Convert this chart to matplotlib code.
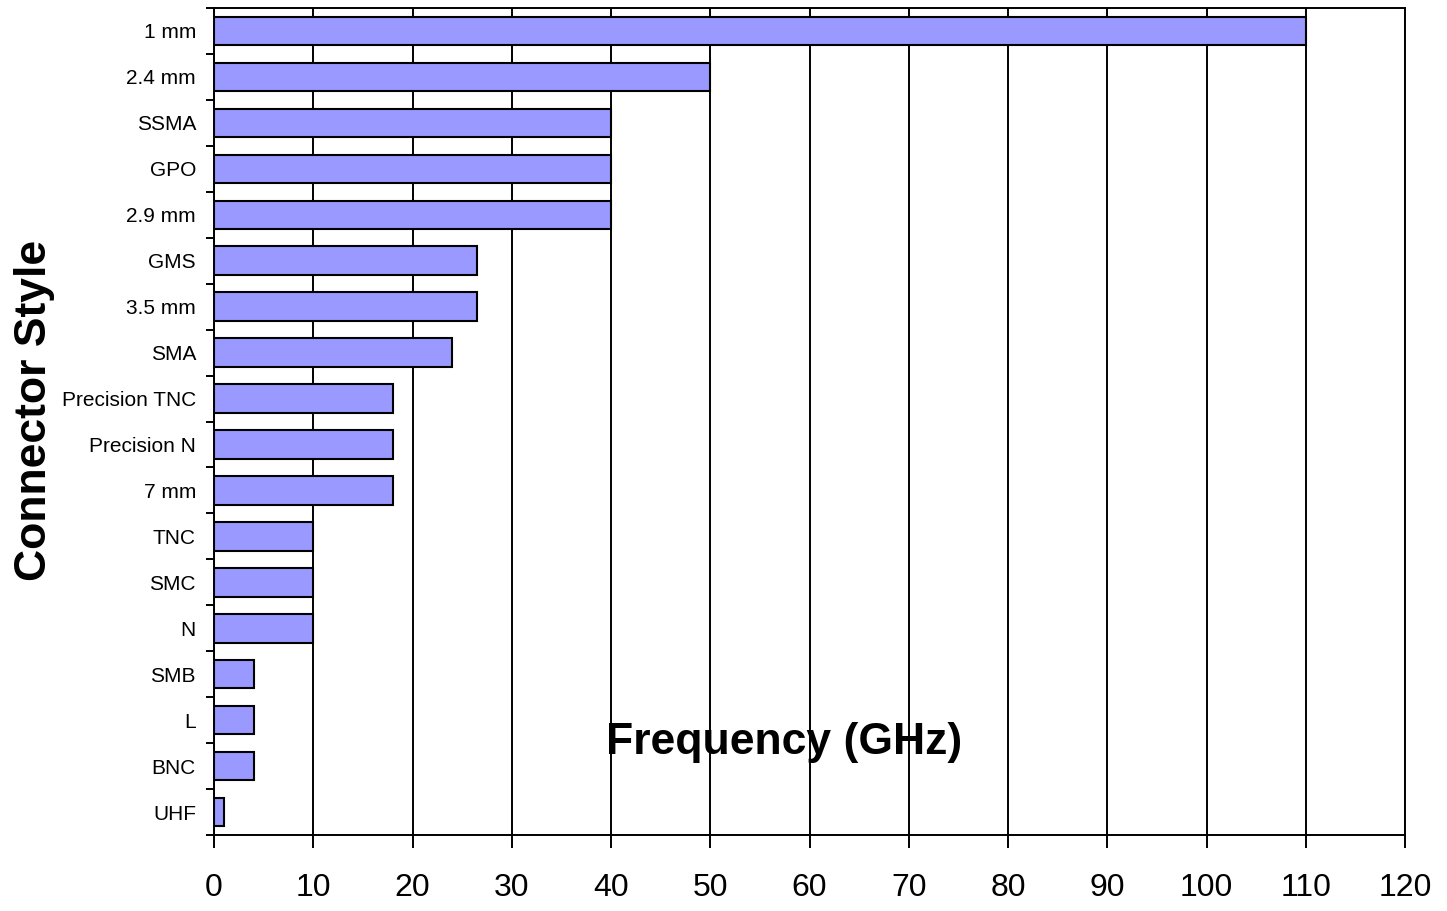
import numpy as np
import matplotlib.pyplot as plt
from matplotlib.ticker import FixedLocator

connectors = ["1 mm", "2.4 mm", "SSMA", "GPO", "2.9 mm", "GMS", "3.5 mm", "SMA",
              "Precision TNC", "Precision N", "7 mm", "TNC", "SMC", "N",
              "SMB", "L", "BNC", "UHF"]
freq_ghz = [110, 50, 40, 40, 40, 26.5, 26.5, 24, 18, 18, 18, 10, 10, 10, 4, 4, 4, 1]
x_ticks = list(range(0, 121, 10))

plt.rcParams['font.family'] = ['Liberation Sans', 'DejaVu Sans']

fig = plt.figure(figsize=(14.47, 9.11), dpi=100)
ax = fig.add_axes([0.1479, 0.0834, 0.971 - 0.1479, 0.9912 - 0.0834])

pos = np.arange(len(connectors))
ax.barh(pos, freq_ghz, height=0.62, color="#9999ff", edgecolor="black",
        linewidth=1.5, zorder=3)

ax.set_xlim(0, 120)
ax.set_ylim(len(connectors) - 0.5, -0.5)
ax.set_xticks(x_ticks)
ax.set_xticklabels([str(t) for t in x_ticks], fontsize=23)
ax.set_yticks(pos)
ax.set_yticklabels(connectors, fontsize=15)
ax.yaxis.set_minor_locator(FixedLocator(np.arange(-0.5, len(connectors), 1)))

ax.tick_params(axis="y", which="major", length=0, pad=13)
ax.tick_params(axis="y", which="minor", length=6, width=1.4, direction="out")
ax.tick_params(axis="x", which="major", length=9, width=1.4, direction="out", pad=18)

ax.xaxis.grid(True, color="black", linewidth=1.4, zorder=0)
ax.set_axisbelow(True)
for s in ax.spines.values():
    s.set_linewidth(1.4)

ax.text(0.479, 0.112, "Frequency (GHz)", transform=ax.transAxes,
        ha="center", va="center", fontsize=32, fontweight="bold", zorder=5)
fig.text(0.024, 0.55, "Connector Style", rotation=90, ha="center", va="center",
         fontsize=32, fontweight="bold")

plt.savefig("out.png", dpi=100)
